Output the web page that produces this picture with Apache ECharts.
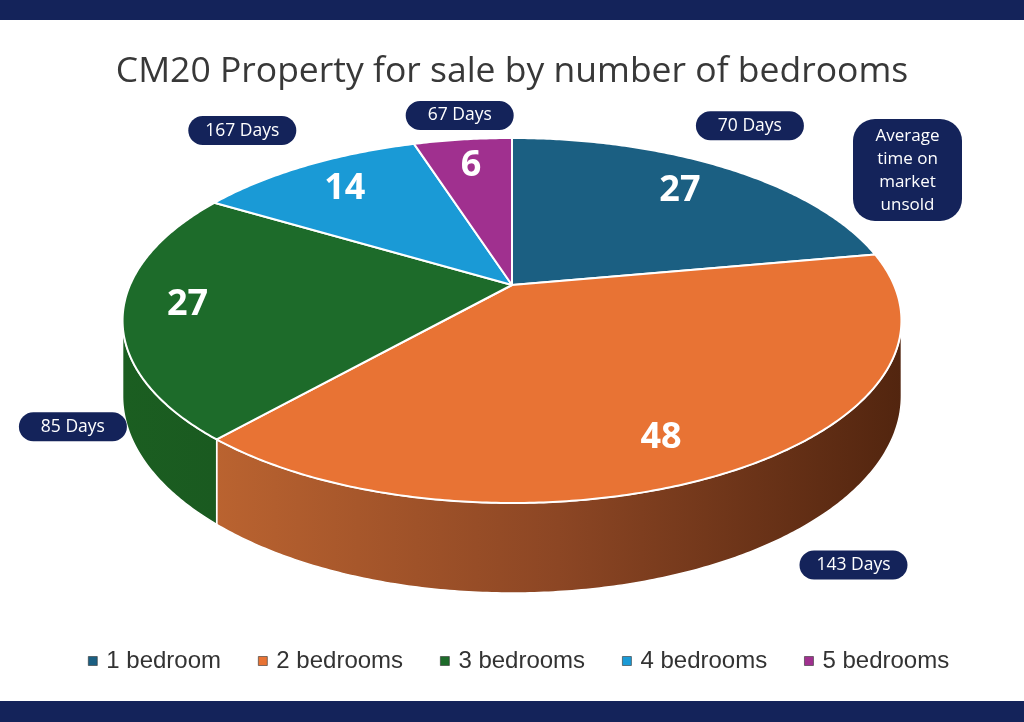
<!DOCTYPE html>
<html>
<head>
<meta charset="utf-8">
<title>CM20 Property for sale by number of bedrooms</title>
<script src="https://cdn.jsdelivr.net/npm/echarts@6/dist/echarts.min.js"></script>
<style>
    html, body {margin: 0; padding: 0; background: #fff;}
    #chart {width: 1024px; height: 722px;}
</style>
</head>
<body>
<div id="chart"></div>
<script>
// data
var categories = ['1 bedroom', '2 bedrooms', '3 bedrooms', '4 bedrooms', '5 bedrooms'];
var propertyCounts = [27, 48, 27, 14, 6];
var daysOnMarket = [70, 143, 85, 167, 67];

// colours
var navy = '#14235a';
var topColors = ['#1b5f82', '#e87334', '#1d6b2a', '#1a9ad6', '#a0308f'];
var sideColors = [
    ['#17506e', '#0e3346'],
    ['#ba6330', '#8c4624', '#52250f'],
    ['#1b5e21', '#1a5a20'],
    ['#1580b3', '#0e5c82'],
    ['#82266f', '#5e1b50']
];

// pie geometry in px: apex of slices, radii, perspective factor, thickness
var pie = {cx: 512, cy: 285, rx: 382, ry: 175.6, k: 0.1945, depth: 72.5};
// where the "xx Days" pills sit relative to the rim at the middle of the slice
var pillOffsets = [[25, -42], [115, 96], [-50, 114], [-64, -35], [-3, -24]];
// small nudges of the value labels
var labelNudges = [[-3, 0], [-20, 15], [-23, -2], [-2, 0], [-1, -2]];

var total = 0;
for (var t = 0; t < propertyCounts.length; t++) total += propertyCounts[t];

// angle measured clockwise from 12 o'clock
function project(r, ang) {
    var u = r * Math.sin(ang), v = -r * Math.cos(ang);
    var w = 1 - pie.k * v;
    return [pie.cx + pie.rx * u / w, pie.cy + pie.ry * v / w, w];
}

function arc(a0, a1) {
    var pts = [];
    var n = Math.max(2, Math.ceil(Math.abs(a1 - a0) / 0.01));
    for (var s = 0; s <= n; s++) {
        pts.push(project(1, a0 + (a1 - a0) * s / n));
    }
    return pts;
}

function makeRender(i) {
    return function (params, api) {
        var value = api.value(0);
        var days = api.value(1);
        var before = 0;
        for (var j = 0; j < i; j++) before += propertyCounts[j];
        var a0 = before / total * Math.PI * 2;
        var a1 = (before + value) / total * Math.PI * 2;
        var mid = (a0 + a1) / 2;
        var children = [];

        // front side of the cylinder, only the part facing us
        var sR = Math.acos(-pie.k), sL = Math.PI * 2 - sR;
        var s0 = Math.max(a0, sR), s1 = Math.min(a1, sL);
        if (s1 > s0) {
            var topEdge = arc(s0, s1);
            var pts = [];
            topEdge.forEach(function (p) { pts.push([p[0], p[1]]); });
            for (var b = topEdge.length - 1; b >= 0; b--) {
                pts.push([topEdge[b][0], topEdge[b][1] + pie.depth / topEdge[b][2]]);
            }
            var cols = sideColors[i];
            var stops = cols.map(function (c, ci) {
                return {offset: ci / (cols.length - 1), color: c};
            });
            children.push({
                type: 'polygon',
                z2: 1,
                shape: {points: pts},
                style: {
                    fill: new echarts.graphic.LinearGradient(0, 0, 1, 0, stops),
                    stroke: '#ffffff',
                    lineWidth: 1.5
                }
            });
        }

        // top face
        var face = [[pie.cx, pie.cy]];
        arc(a0, a1).forEach(function (p) { face.push([p[0], p[1]]); });
        children.push({
            type: 'polygon',
            z2: 10,
            shape: {points: face},
            style: {fill: topColors[i], stroke: '#ffffff', lineWidth: 2, lineJoin: 'round'}
        });

        // value label
        var lp = project(0.78, mid);
        children.push({
            type: 'text',
            z2: 20,
            x: lp[0] + labelNudges[i][0],
            y: lp[1] + labelNudges[i][1],
            style: {
                text: String(value),
                fill: '#ffffff',
                fontFamily: 'Open Sans',
                fontWeight: 'bold',
                fontSize: 36,
                align: 'center',
                verticalAlign: 'middle'
            }
        });

        // days pill
        var rim = project(1, mid);
        var px = rim[0] + pillOffsets[i][0], py = rim[1] + pillOffsets[i][1];
        children.push({
            type: 'rect',
            z2: 20,
            shape: {x: px - 54, y: py - 14.5, width: 108, height: 29, r: 14.5},
            style: {fill: navy}
        });
        children.push({
            type: 'text',
            z2: 21,
            x: px,
            y: py,
            style: {
                text: days + ' Days',
                fill: '#ffffff',
                fontFamily: 'Open Sans',
                fontSize: 17.5,
                align: 'center',
                verticalAlign: 'middle'
            }
        });

        return {type: 'group', children: children};
    };
}

var series = [];
for (var i = 0; i < categories.length; i++) {
    series.push({
        type: 'custom',
        name: categories[i],
        coordinateSystem: 'none',
        itemStyle: {color: topColors[i]},
        data: [[propertyCounts[i], daysOnMarket[i]]],
        renderItem: makeRender(i)
    });
}

var dom = document.getElementById('chart');
var myChart = echarts.init(dom);
var option = {
    animation: false,
    backgroundColor: '#ffffff',
    title: {
        text: 'CM20 Property for sale by number of bedrooms',
        left: 'center',
        top: 49,
        textStyle: {
            fontFamily: 'Open Sans',
            fontSize: 35.5,
            fontWeight: 'normal',
            color: '#383838'
        }
    },
    legend: {
        data: categories,
        left: 83,
        top: 644,
        icon: 'rect',
        itemWidth: 9,
        itemHeight: 9,
        itemGap: 37,
        itemStyle: {borderColor: '#333333', borderWidth: 0.6},
        textStyle: {
            fontFamily: 'Liberation Sans',
            fontSize: 24,
            color: '#333333',
            padding: [0, 0, 0, 4]
        }
    },
    graphic: [
        {type: 'rect', shape: {x: 0, y: 0, width: 1024, height: 20}, style: {fill: navy}},
        {type: 'rect', shape: {x: 0, y: 701, width: 1024, height: 21}, style: {fill: navy}},
        {
            type: 'rect',
            shape: {x: 853, y: 119, width: 109, height: 102, r: 22},
            style: {fill: navy}
        },
        {
            type: 'text',
            x: 907.5,
            y: 171,
            style: {
                text: 'Average\ntime on\nmarket\nunsold',
                fill: '#ffffff',
                fontFamily: 'Open Sans',
                fontSize: 17,
                lineHeight: 23,
                align: 'center',
                verticalAlign: 'middle'
            }
        }
    ],
    series: series
};

if (option && typeof option === 'object') {
    myChart.setOption(option, true);
}
</script>
</body>
</html>
